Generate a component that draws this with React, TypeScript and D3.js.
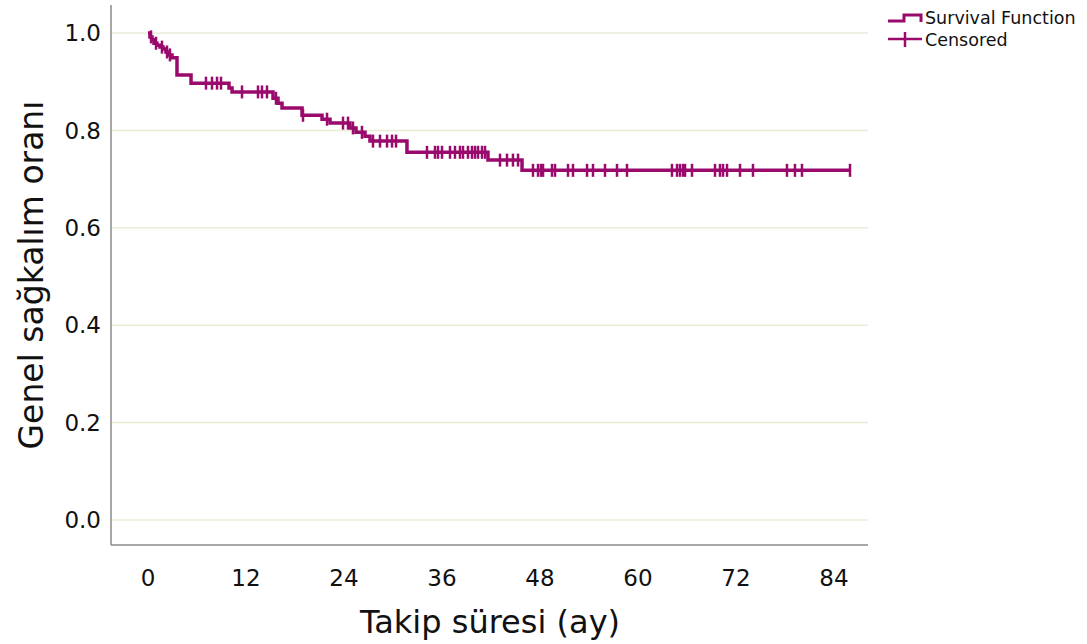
import React from "react";
import * as d3 from "d3";

const stepTimes = [0.24, 0.49, 0.73, 1.1, 1.47, 1.84, 2.2, 2.57, 2.94, 3.55, 5.27, 9.92, 10.29, 15.31, 15.92, 16.41, 18.86, 21.31, 22.29, 24.73, 25.47, 26.57, 27.18, 31.71, 41.63, 45.8];
const stepSurv = [0.992, 0.986, 0.979, 0.975, 0.971, 0.967, 0.961, 0.955, 0.949, 0.914, 0.897, 0.887, 0.879, 0.866, 0.856, 0.846, 0.831, 0.823, 0.815, 0.805, 0.796, 0.788, 0.778, 0.755, 0.739, 0.718];
const censorTimes = [0.37, 0.98, 1.71, 2.33, 2.69, 7.1, 7.84, 8.45, 8.94, 11.51, 13.47, 13.96, 14.57, 15.67, 18.98, 21.92, 23.88, 24.49, 25.1, 26.2, 27.55, 28.41, 29.27, 29.88, 30.37, 34.16, 35.14, 35.51, 36.0, 36.98, 37.59, 38.2, 38.57, 39.18, 39.67, 40.04, 40.41, 40.9, 41.27, 43.1, 43.96, 44.69, 45.31, 47.14, 47.76, 48.12, 48.37, 49.47, 49.84, 51.43, 52.04, 53.76, 54.49, 55.96, 57.43, 58.65, 64.16, 64.78, 65.14, 65.51, 65.76, 66.61, 69.43, 70.04, 70.41, 70.9, 72.49, 74.08, 78.24, 79.22, 80.08, 85.96];
const xTicks = [0, 12, 24, 36, 48, 60, 72, 84];
const yTicks = [0, 0.2, 0.4, 0.6, 0.8, 1.0];
const xTitle = "Takip süresi (ay)";
const yTitle = "Genel sağkalım oranı";
const legendLabels = ["Survival Function", "Censored"];

const COLOR = "#990a6c";
const FONT = "'DejaVu Sans', sans-serif";

export default function App() {
  const W = 1087, H = 644;
  const left = 111, right = 868, top = 5, bottom = 545;
  const x = d3.scaleLinear().domain([0, 84]).range([148, 834]);
  const y = d3.scaleLinear().domain([0, 1]).range([520, 33]);

  const survAt = (t: number) => {
    let s = 1;
    for (let i = 0; i < stepTimes.length; i++) if (stepTimes[i] <= t) s = stepSurv[i];
    return s;
  };

  const pts: [number, number][] = [[0, 1]];
  stepTimes.forEach((t, i) => pts.push([t, stepSurv[i]]));
  pts.push([d3.max(censorTimes)!, stepSurv[stepSurv.length - 1]]);
  const line = d3.line<[number, number]>().x(d => x(d[0])).y(d => y(d[1])).curve(d3.curveStepAfter);

  return (
    <svg width={W} height={H} style={{ position: "absolute", left: 0, top: 0, background: "#fff" }}>
      {yTicks.map(v => (
        <line key={"g" + v} x1={left} x2={right} y1={y(v)} y2={y(v)} stroke="#ecebd8" strokeWidth={1.5} />
      ))}
      <line x1={left} x2={left} y1={top} y2={bottom} stroke="#8a8a8a" strokeWidth={1.5} />
      <line x1={left} x2={right} y1={bottom} y2={bottom} stroke="#8a8a8a" strokeWidth={1.5} />
      {yTicks.map(v => (
        <text key={"y" + v} x={101} y={y(v)} dy="0.36em" textAnchor="end" fontFamily={FONT} fontSize={23} fill="#111">
          {v.toFixed(1)}
        </text>
      ))}
      {xTicks.map(v => (
        <text key={"x" + v} x={x(v)} y={586} textAnchor="middle" fontFamily={FONT} fontSize={23} fill="#111">
          {v}
        </text>
      ))}
      <text x={490} y={633} textAnchor="middle" fontFamily={FONT} fontSize={32} fill="#111">{xTitle}</text>
      <text transform={`translate(43,275) rotate(-90)`} textAnchor="middle" fontFamily={FONT} fontSize={33} fill="#111">{yTitle}</text>
      <path d={line(pts)!} fill="none" stroke={COLOR} strokeWidth={3.5} />
      {censorTimes.map((t, i) => (
        <line key={"c" + i} x1={x(t)} x2={x(t)} y1={y(survAt(t)) - 6.5} y2={y(survAt(t)) + 6.5} stroke={COLOR} strokeWidth={2.5} />
      ))}
      <path d="M888,21 H904 V15 H921 V22" fill="none" stroke={COLOR} strokeWidth={3} />
      <line x1={888} x2={922} y1={39} y2={39} stroke={COLOR} strokeWidth={2.5} />
      <line x1={905} x2={905} y1={32} y2={47} stroke={COLOR} strokeWidth={2.5} />
      <text x={925} y={24} fontFamily={FONT} fontSize={17.5} fill="#111">{legendLabels[0]}</text>
      <text x={925} y={46} fontFamily={FONT} fontSize={17.5} fill="#111">{legendLabels[1]}</text>
    </svg>
  );
}
